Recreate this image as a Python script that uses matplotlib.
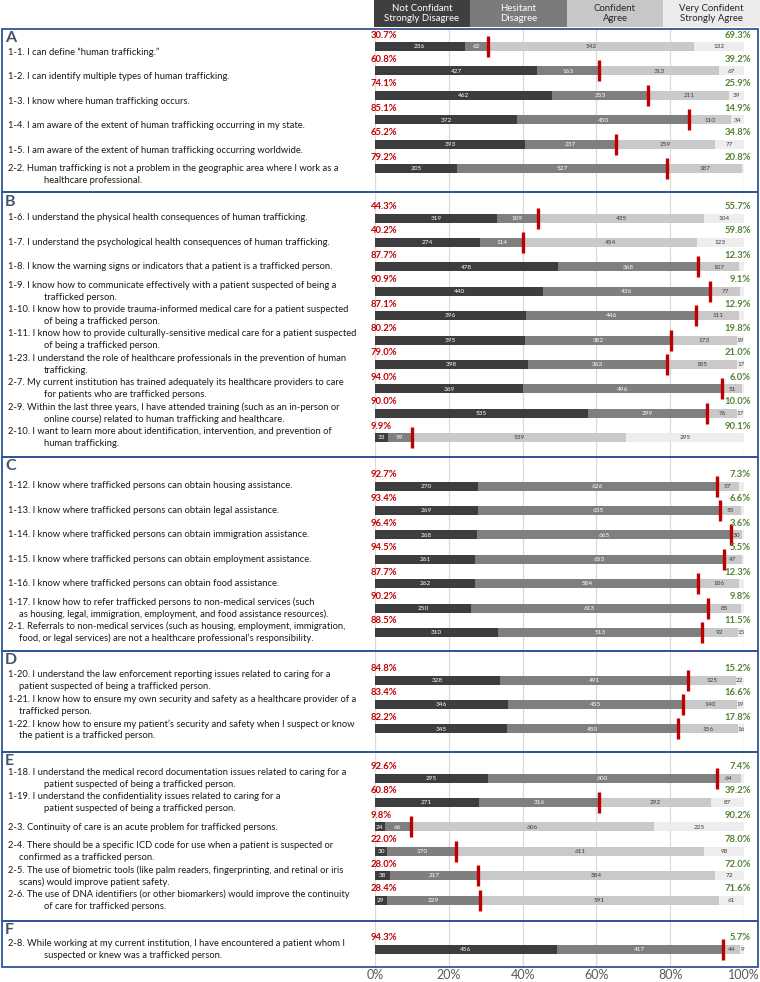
import matplotlib
matplotlib.use('Agg')
import matplotlib.pyplot as plt
import matplotlib.transforms as mtransforms
from matplotlib.patches import Rectangle

plt.rcParams['font.family'] = ['Lato', 'DejaVu Sans']

# ---------------- data ----------------
legend_labels = ["Not Confidant\nStrongly Disagree", "Hesitant\nDisagree",
                 "Confident\nAgree", "Very Confident\nStrongly Agree"]

panel_names = ["A", "B", "C", "D", "E", "F"]
panel_sizes = [6, 10, 7, 3, 6, 1]

questions = [
    "1-1. I can define \u201chuman trafficking.\u201d",
    "1-2. I can identify multiple types of human trafficking.",
    "1-3. I know where human trafficking occurs.",
    "1-4. I am aware of the extent of human trafficking occurring in my state.",
    "1-5. I am aware of the extent of human trafficking occurring worldwide.",
    "2-2. Human trafficking is not a problem in the geographic area where I work as a\nhealthcare professional.",
    "1-6. I understand the physical health consequences of human trafficking.",
    "1-7. I understand the psychological health consequences of human trafficking.",
    "1-8. I know the warning signs or indicators that a patient is a trafficked person.",
    "1-9. I know how to communicate effectively with a patient suspected of being a\ntrafficked person.",
    "1-10. I know how to provide trauma-informed medical care for a patient suspected\nof being a trafficked person.",
    "1-11. I know how to provide culturally-sensitive medical care for a patient suspected\nof being a trafficked person.",
    "1-23. I understand the role of healthcare professionals in the prevention of human\ntrafficking.",
    "2-7. My current institution has trained adequately its healthcare providers to care\nfor patients who are trafficked persons.",
    "2-9. Within the last three years, I have attended training (such as an in-person or\nonline course) related to human trafficking and healthcare.",
    "2-10. I want to learn more about identification, intervention, and prevention of\nhuman trafficking.",
    "1-12. I know where trafficked persons can obtain housing assistance.",
    "1-13. I know where trafficked persons can obtain legal assistance.",
    "1-14. I know where trafficked persons can obtain immigration assistance.",
    "1-15. I know where trafficked persons can obtain employment assistance.",
    "1-16. I know where trafficked persons can obtain food assistance.",
    "1-17. I know how to refer trafficked persons to non-medical services (such\nas housing, legal, immigration, employment, and food assistance resources).",
    "2-1. Referrals to non-medical services (such as housing, employment, immigration,\nfood, or legal services) are not a healthcare professional\u2019s responsibility.",
    "1-20. I understand the law enforcement reporting issues related to caring for a\npatient suspected of being a trafficked person.",
    "1-21. I know how to ensure my own security and safety as a healthcare provider of a\ntrafficked person.",
    "1-22. I know how to ensure my patient\u2019s security and safety when I suspect or know\nthe patient is a trafficked person.",
    "1-18. I understand the medical record documentation issues related to caring for a\npatient suspected of being a trafficked person.",
    "1-19. I understand the confidentiality issues related to caring for a\npatient suspected of being a trafficked person.",
    "2-3. Continuity of care is an acute problem for trafficked persons.",
    "2-4. There should be a specific ICD code for use when a patient is suspected or\nconfirmed as a trafficked person.",
    "2-5. The use of biometric tools (like palm readers, fingerprinting, and retinal or iris\nscans) would improve patient safety.",
    "2-6. The use of DNA identifiers (or other biomarkers) would improve the continuity\nof care for trafficked persons.",
    "2-8. While working at my current institution, I have encountered a patient whom I\nsuspected or knew was a trafficked person.",
]
# wrap style of continuation line: 'long' indent or 'short' indent
wrap_style = ['long'] * 21 + ['short', 'short', 'short', 'short', 'short',
                               'long', 'long', 'long', 'short', 'short', 'long', 'long']

not_confident = [236, 427, 462, 372, 393, 205,
                 319, 274, 478, 440, 396, 395, 398, 369, 535, 33,
                 270, 269, 268, 261, 262, 250, 310,
                 328, 346, 345,
                 295, 271, 24, 30, 38, 29,
                 456]
hesitant = [62, 163, 253, 450, 237, 527,
            109, 114, 368, 436, 446, 382, 363, 496, 299, 59,
            626, 635, 665, 653, 584, 613, 513,
            491, 455, 450,
            600, 316, 66, 170, 217, 229,
            417]
confident = [542, 313, 211, 110, 259, 187,
             435, 454, 107, 77, 111, 173, 185, 51, 76, 539,
             57, 55, 30, 47, 106, 85, 92,
             125, 140, 156,
             64, 292, 606, 611, 584, 591,
             44]
very_confident = [132, 67, 39, 34, 77, 5,
                  104, 123, 12, 11, 14, 19, 17, 4, 17, 295,
                  14, 9, 5, 6, 13, 9, 15,
                  22, 19, 16,
                  8, 87, 225, 98, 72, 61,
                  9]
very_label_shown = [True, True, True, True, True, False,
                    True, True, False, False, False, True, True, False, True, True,
                    False, False, False, False, False, False, True,
                    True, True, True,
                    False, True, True, True, True, True,
                    True]

# ---------------- layout / style ----------------
W, H = 760, 982
X0, X1 = 375, 744
YTOP, YBOT = 29, 967
panel_tops = [29, 192, 457, 651, 752, 921]
first_offsets = [17.5, 26, 29, 29, 26, 28]
text_offsets = [6, 0, 0, 1, 0.5, 1]
ROW = 24.4

seg_colors = ['#3d3d3d', '#7f7f7f', '#c9c9c9', '#ededed']
txt_colors = ['white', 'white', '#3a3a3a', '#3a3a3a']
head_colors = ['#3f3f3f', '#7b7b7b', '#c7c7c7', '#ebebeb']
head_txt = ['white', 'white', '#262626', '#262626']
RED = '#c00000'
GREEN = '#548235'
BLUE = '#2f5597'
LETTER = '#44546a'

fig = plt.figure(figsize=(W / 100, H / 100), dpi=100)
px = mtransforms.Affine2D().scale(1 / W, -1 / H).translate(0, 1) + fig.transFigure

ax = fig.add_axes([X0 / W, 1 - YBOT / H, (X1 - X0) / W, (YBOT - YTOP) / H])
ax.set_xlim(0, 100)
ax.set_ylim(YBOT, YTOP)
for s in ax.spines.values():
    s.set_visible(False)
ax.set_yticks([])
ax.set_xticks(range(0, 101, 20))
ax.set_xticklabels([f"{t}%" for t in range(0, 101, 20)])
ax.tick_params(axis='x', length=0, pad=1.5, labelsize=9, labelcolor='#595959')
ax.grid(axis='x', color='#d9d9d9', lw=0.9)
ax.set_axisbelow(True)

# row positions
ys, tys = [], []
for p, n in enumerate(panel_sizes):
    for i in range(n):
        y = panel_tops[p] + first_offsets[p] + i * ROW
        ys.append(y)
        tys.append(y + text_offsets[p])

series = [not_confident, hesitant, confident, very_confident]
totals = [sum(v) for v in zip(*series)]
pcts = [[v / t * 100 for v, t in zip(s, totals)] for s in series]

left = [0.0] * len(ys)
for k in range(4):
    bars = ax.barh(ys, pcts[k], left=left, height=9, color=seg_colors[k], lw=0)
    for i, b in enumerate(bars):
        if k == 3 and not very_label_shown[i]:
            continue
        cx = b.get_x() + b.get_width() / 2
        ax.text(cx, ys[i] + 0.3, str(series[k][i]), ha='center', va='center',
                fontsize=4.6, color=txt_colors[k])
    left = [l + p for l, p in zip(left, pcts[k])]

neg = [a + b for a, b in zip(pcts[0], pcts[1])]
for i, y in enumerate(ys):
    r = round(neg[i], 1)
    ax.vlines(neg[i], y - 10.5, y + 10.5, color=RED, lw=2.4, zorder=5)
    fig.text(371, y - 11.5, f"{r:.1f}%", transform=px, ha='left', va='center',
             fontsize=6.8, fontweight='bold', color=RED)
    fig.text(751, y - 11.5, f"{100 - r:.1f}%", transform=px, ha='right', va='center',
             fontsize=6.8, fontweight='bold', color=GREEN)

# question labels
for i, q in enumerate(questions):
    lines = q.split("\n")
    n = len(lines)
    for j, line in enumerate(lines):
        yy = tys[i] + (j - (n - 1) / 2) * 12
        xx = 8 if j == 0 else (44 if wrap_style[i] == 'long' else 19)
        fig.text(xx, yy, line, transform=px, ha='left', va='center',
                 fontsize=6.75, color='#1a1a1a')

# panels
bottoms = panel_tops[1:] + [YBOT]
for p, name in enumerate(panel_names):
    fig.patches.append(Rectangle((2, panel_tops[p]), W - 4, bottoms[p] - panel_tops[p],
                                 transform=px, fill=False, edgecolor=BLUE, lw=1.3))
    fig.text(5, panel_tops[p] + 9.5, name, transform=px, ha='left', va='center',
             fontsize=11.5, fontweight='bold', color=LETTER)

# header legend
edges = [374, 470, 567, 663, 760]
for k in range(4):
    fig.patches.append(Rectangle((edges[k], 0), edges[k + 1] - edges[k], 27,
                                 transform=px, color=head_colors[k], lw=0))
    fig.text((edges[k] + edges[k + 1]) / 2, 13.5, legend_labels[k], transform=px,
             ha='center', va='center', fontsize=6.9, color=head_txt[k],
             linespacing=1.15)

fig.savefig('out.png', dpi=100)
